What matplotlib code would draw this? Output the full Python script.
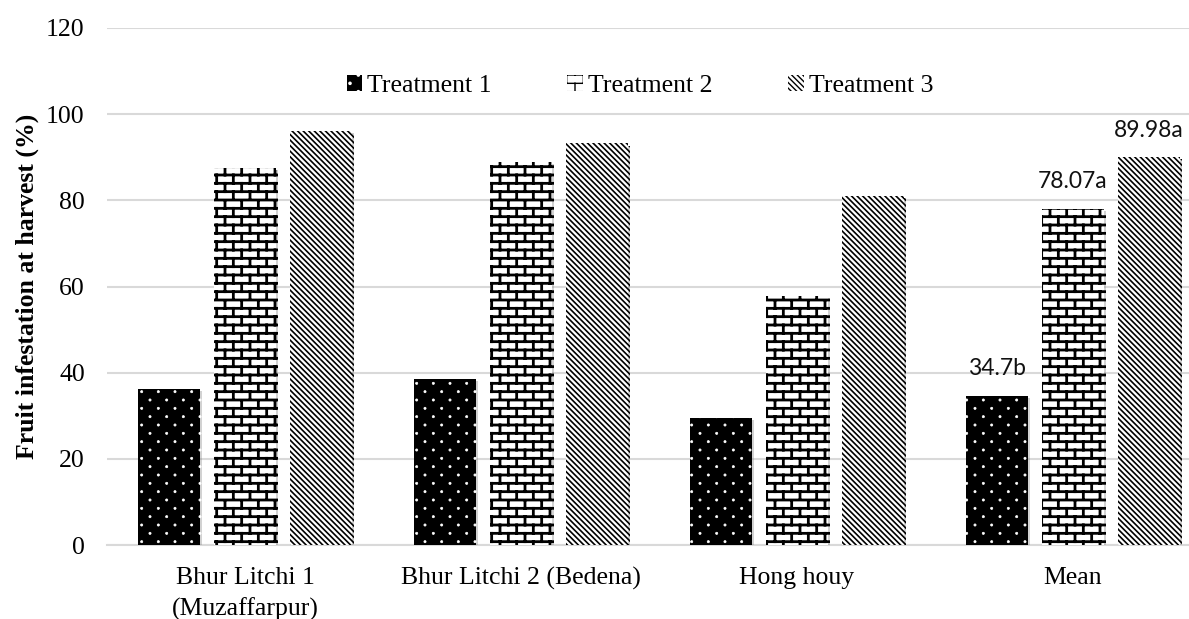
import matplotlib.pyplot as plt
import matplotlib.patheffects as pe
import matplotlib.hatch as mhatch
from matplotlib.path import Path
from matplotlib.patches import Rectangle
import numpy as np

categories = ["Bhur Litchi 1\n(Muzaffarpur)", "Bhur Litchi 2 (Bedena)", "Hong houy", "Mean"]
treatment1 = [36.2, 38.6, 29.4, 34.7]
treatment2 = [87.5, 88.9, 57.8, 78.07]
treatment3 = [96.2, 93.2, 81.0, 89.98]
series_names = ["Treatment 1", "Treatment 2", "Treatment 3"]
mean_labels = ["34.7b", "78.07a", "89.98a"]
yticks = [0, 20, 40, 60, 80, 100, 120]

serif = "Liberation Serif"


# brick hatch, hooked onto the 'o' character (small circles are not used here)
class BrickHatch(mhatch.HatchPatternBase):
    def __init__(self, hatch, density):
        self.rows = hatch.count('o') * density * 2
        self.cols = hatch.count('o') * density
        if self.rows:
            self.num_vertices = (self.rows + 1) * 2 + self.rows * (self.cols + 1) * 2
        else:
            self.num_vertices = 0

    def set_vertices_and_codes(self, vertices, codes):
        h = 1.0 / self.rows
        w = 1.0 / self.cols
        segs = []
        for k in range(self.rows + 1):
            segs.append(((0, k * h), (1, k * h)))
        for k in range(self.rows):
            shift = (k % 2) * w / 2
            for j in range(self.cols + 1):
                xx = j * w + shift
                segs.append(((xx, k * h), (xx, (k + 1) * h)))
        segs = np.array(segs).reshape(-1, 2)
        vertices[:] = segs
        codes[0::2] = Path.MOVETO
        codes[1::2] = Path.LINETO


# staggered tiny dots, hooked onto 'O'
class DotHatch(mhatch.HatchPatternBase):
    circ = Path.unit_circle()

    def __init__(self, hatch, density):
        n = hatch.count('O')
        self.rows = n * density * 2
        self.cols = n * density
        self.centers = []
        if n:
            for k in range(self.rows + 1):
                if k % 2 == 0:
                    xs = np.linspace(0, 1, self.cols + 1)
                else:
                    xs = np.linspace(0.5 / self.cols, 1 - 0.5 / self.cols, self.cols)
                for xx in xs:
                    self.centers.append((xx, k / self.rows))
        self.num_vertices = len(self.centers) * len(self.circ.vertices)

    def set_vertices_and_codes(self, vertices, codes):
        nv = len(self.circ.vertices)
        r = 0.011
        for i, (cx, cy) in enumerate(self.centers):
            vertices[i * nv:(i + 1) * nv] = self.circ.vertices * r + (cx, cy)
            codes[i * nv:(i + 1) * nv] = self.circ.codes


swap = {mhatch.SmallCircles: BrickHatch, mhatch.LargeCircles: DotHatch}
mhatch._hatch_types[:] = [swap.get(t, t) for t in mhatch._hatch_types]

fig = plt.figure(figsize=(11.89, 6.19), dpi=100)
ax = fig.add_axes([107 / 1189, 1 - 545 / 619, 1104 / 1189, (545 - 28) / 619])

x = np.arange(len(categories))
step = 0.275
width = 0.225

styles = [
    dict(facecolor="black", edgecolor="white", hatch="O", hlw=0.5),
    dict(facecolor="white", edgecolor="black", hatch="o", hlw=2.0),
    dict(facecolor="white", edgecolor="black", hatch="\\\\\\\\\\\\", hlw=1.2),
]
shadow = [pe.SimplePatchShadow(offset=(1.5, -1.5), shadow_rgbFace="0.5", alpha=0.35), pe.Normal()]

series = [treatment1, treatment2, treatment3]
handles = []
for i, (vals, st) in enumerate(zip(series, styles)):
    with plt.rc_context({"hatch.linewidth": st["hlw"]}):
        bars = ax.bar(x + (i - 1) * step, vals, width, facecolor=st["facecolor"],
                      edgecolor=st["edgecolor"], hatch=st["hatch"], linewidth=0, zorder=3)
        for b in bars:
            b.set_path_effects(shadow)
        h = Rectangle((0, 0), 1, 1, facecolor=st["facecolor"], edgecolor=st["edgecolor"],
                      hatch=st["hatch"], linewidth=0)
    handles.append(h)

# labels over the Mean group
for i, (vals, lab) in enumerate(zip(series, mean_labels)):
    ax.annotate(lab, (x[-1] + (i - 1) * step, vals[-1]), xytext=(0, 12),
                textcoords="offset points", ha="center", va="bottom",
                fontsize=16.5, family="Lato", color="#111111")

ax.set_ylim(0, 120)
ax.set_xlim(-0.5, 3.5)
ax.set_yticks(yticks)
ax.set_yticklabels([str(t) for t in yticks], family=serif, fontsize=18.5)
ax.set_xticks(x)
ax.set_xticklabels(categories, family=serif, fontsize=18.5, linespacing=1.45)
ax.tick_params(axis="y", length=0, pad=16)
ax.tick_params(axis="x", length=0, pad=16)
ax.grid(axis="y", color="#d9d9d9", linewidth=1.5, zorder=0)
for s in ["top", "right", "left"]:
    ax.spines[s].set_visible(False)
ax.spines["bottom"].set_color("#d9d9d9")
ax.spines["bottom"].set_linewidth(1.5)

ax.set_ylabel("Fruit infestation at harvest (%)", family=serif, fontweight="bold",
              fontsize=18.5, labelpad=5)

fig.legend(handles, series_names, loc="center", bbox_to_anchor=(640 / 1189, 1 - 86 / 619),
           ncol=3, frameon=False, prop={"family": serif, "size": 18.5},
           handlelength=0.6, handleheight=0.6, handletextpad=0.2, columnspacing=2.95)

fig.savefig("out.png", dpi=100)
